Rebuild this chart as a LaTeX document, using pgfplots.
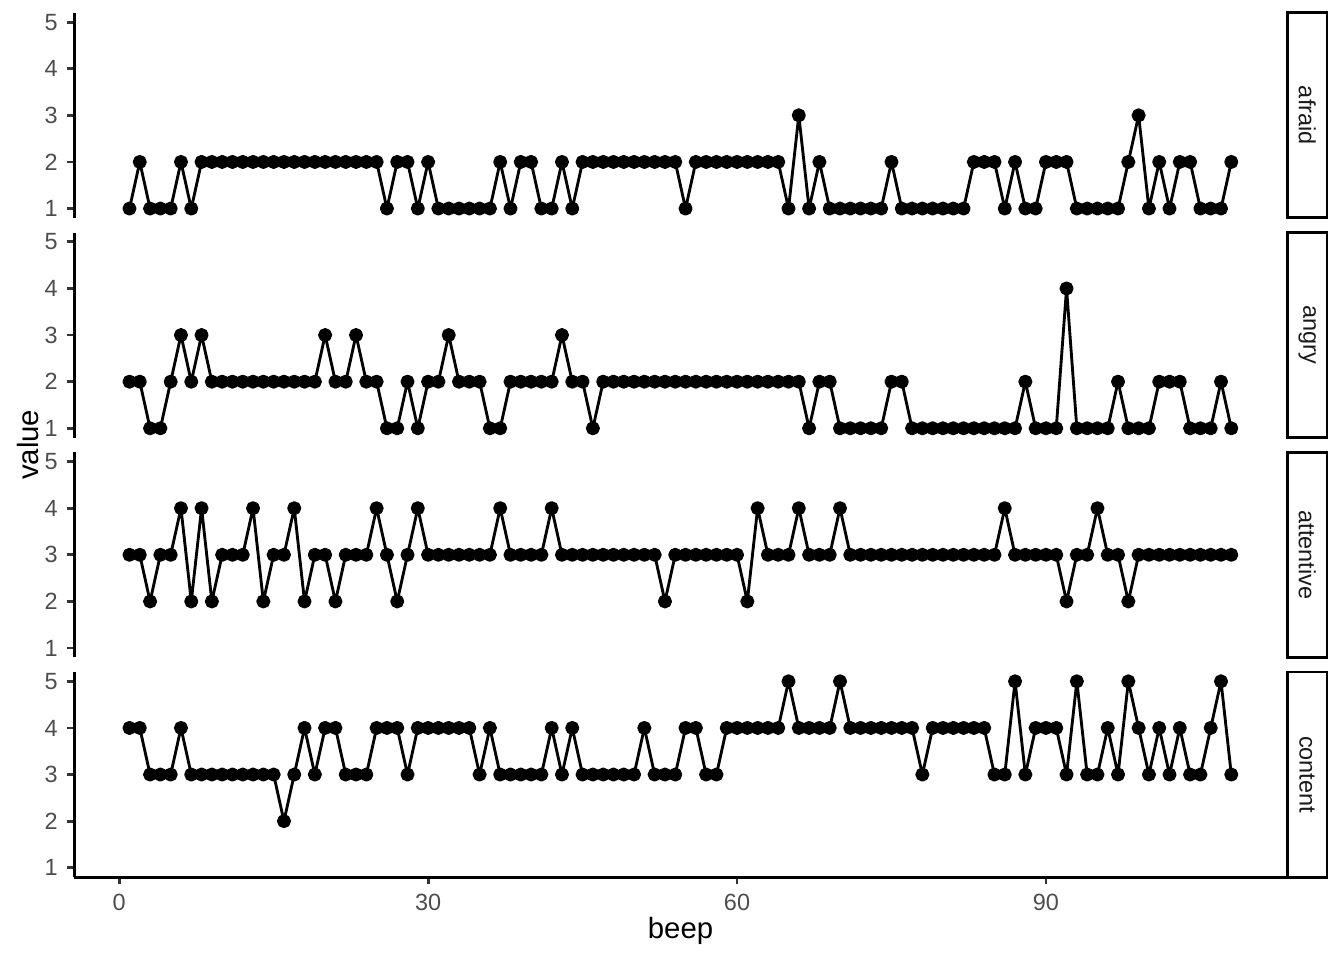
\documentclass[border=0pt]{standalone}
\usepackage{fontspec}
\setmainfont{Liberation Sans}
\usepackage{pgfplots}
\pgfplotsset{compat=1.18}
\usepackage{pgfplotstable}
\definecolor{tickgray}{HTML}{4D4D4D}
\definecolor{tickline}{HTML}{333333}
\definecolor{stripgray}{HTML}{1A1A1A}

\pgfplotstableread{
beep afraid angry attentive content
1 1 2 3 4
2 2 2 3 4
3 1 1 2 3
4 1 1 3 3
5 1 2 3 3
6 2 3 4 4
7 1 2 2 3
8 2 3 4 3
9 2 2 2 3
10 2 2 3 3
11 2 2 3 3
12 2 2 3 3
13 2 2 4 3
14 2 2 2 3
15 2 2 3 3
16 2 2 3 2
17 2 2 4 3
18 2 2 2 4
19 2 2 3 3
20 2 3 3 4
21 2 2 2 4
22 2 2 3 3
23 2 3 3 3
24 2 2 3 3
25 2 2 4 4
26 1 1 3 4
27 2 1 2 4
28 2 2 3 3
29 1 1 4 4
30 2 2 3 4
31 1 2 3 4
32 1 3 3 4
33 1 2 3 4
34 1 2 3 4
35 1 2 3 3
36 1 1 3 4
37 2 1 4 3
38 1 2 3 3
39 2 2 3 3
40 2 2 3 3
41 1 2 3 3
42 1 2 4 4
43 2 3 3 3
44 1 2 3 4
45 2 2 3 3
46 2 1 3 3
47 2 2 3 3
48 2 2 3 3
49 2 2 3 3
50 2 2 3 3
51 2 2 3 4
52 2 2 3 3
53 2 2 2 3
54 2 2 3 3
55 1 2 3 4
56 2 2 3 4
57 2 2 3 3
58 2 2 3 3
59 2 2 3 4
60 2 2 3 4
61 2 2 2 4
62 2 2 4 4
63 2 2 3 4
64 2 2 3 4
65 1 2 3 5
66 3 2 4 4
67 1 1 3 4
68 2 2 3 4
69 1 2 3 4
70 1 1 4 5
71 1 1 3 4
72 1 1 3 4
73 1 1 3 4
74 1 1 3 4
75 2 2 3 4
76 1 2 3 4
77 1 1 3 4
78 1 1 3 3
79 1 1 3 4
80 1 1 3 4
81 1 1 3 4
82 1 1 3 4
83 2 1 3 4
84 2 1 3 4
85 2 1 3 3
86 1 1 4 3
87 2 1 3 5
88 1 2 3 3
89 1 1 3 4
90 2 1 3 4
91 2 1 3 4
92 2 4 2 3
93 1 1 3 5
94 1 1 3 3
95 1 1 4 3
96 1 1 3 4
97 1 2 3 3
98 2 1 2 5
99 3 1 3 4
100 1 1 3 3
101 2 2 3 4
102 1 2 3 3
103 2 2 3 4
104 2 1 3 3
105 1 1 3 3
106 1 1 3 4
107 1 2 3 5
108 2 1 3 3
}\data

\pgfplotsset{
  panel/.style={
    scale only axis, width=454.5pt, height=76.9pt,
    xmin=-4.35, xmax=113.35, ymin=0.8, ymax=5.2,
    ytick={1,2,3,4,5},
    axis y line*=left,
    axis line style={black, line width=1.07pt, -},
    tick align=outside, major tick length=2.75pt,
    tick style={tickline, line width=1.07pt},
    tick label style={font=\fontsize{8.8}{10}\selectfont, text=tickgray},
    /pgf/number format/assume math mode=true,
    clip=false,
    anchor=south west,
  },
  series/.style={black, line width=1.07pt, line join=round, mark=*, mark size=2.1pt, mark options={solid, fill=black}},
}

\begin{document}
\begin{tikzpicture}
\path[use as bounding box] (0pt,0pt) rectangle (504pt,360pt);

\begin{axis}[panel, at={(27.9pt,278.3pt)}, axis x line=none]
\addplot[series] table[x=beep, y=afraid] {\data};
\end{axis}
\begin{axis}[panel, at={(27.9pt,195.9pt)}, axis x line=none]
\addplot[series] table[x=beep, y=angry] {\data};
\end{axis}
\begin{axis}[panel, at={(27.9pt,113.5pt)}, axis x line=none]
\addplot[series] table[x=beep, y=attentive] {\data};
\end{axis}
\begin{axis}[panel, at={(27.9pt,31.1pt)}, axis x line*=bottom, xtick={0,30,60,90}]
\addplot[series] table[x=beep, y=content] {\data};
\end{axis}

% strips
\foreach \yb/\lab in {278.3/afraid, 195.9/angry, 113.5/attentive, 31.1/content} {
  \draw[black, line width=1.07pt, fill=white] (482.9pt,\yb pt) rectangle (497.6pt,\yb pt+76.9pt);
  \node[rotate=-90, font=\fontsize{8.8}{10}\selectfont, text=stripgray, inner sep=0pt] at (490.2pt,\yb pt+38.45pt) {\lab};
}

% axis titles
\node[rotate=90, font=\fontsize{11}{13}\selectfont, inner sep=0pt] at (10.5pt,193.2pt) {value};
\node[font=\fontsize{11}{13}\selectfont, inner sep=0pt] at (255.2pt,11.0pt) {beep};
\end{tikzpicture}
\end{document}
